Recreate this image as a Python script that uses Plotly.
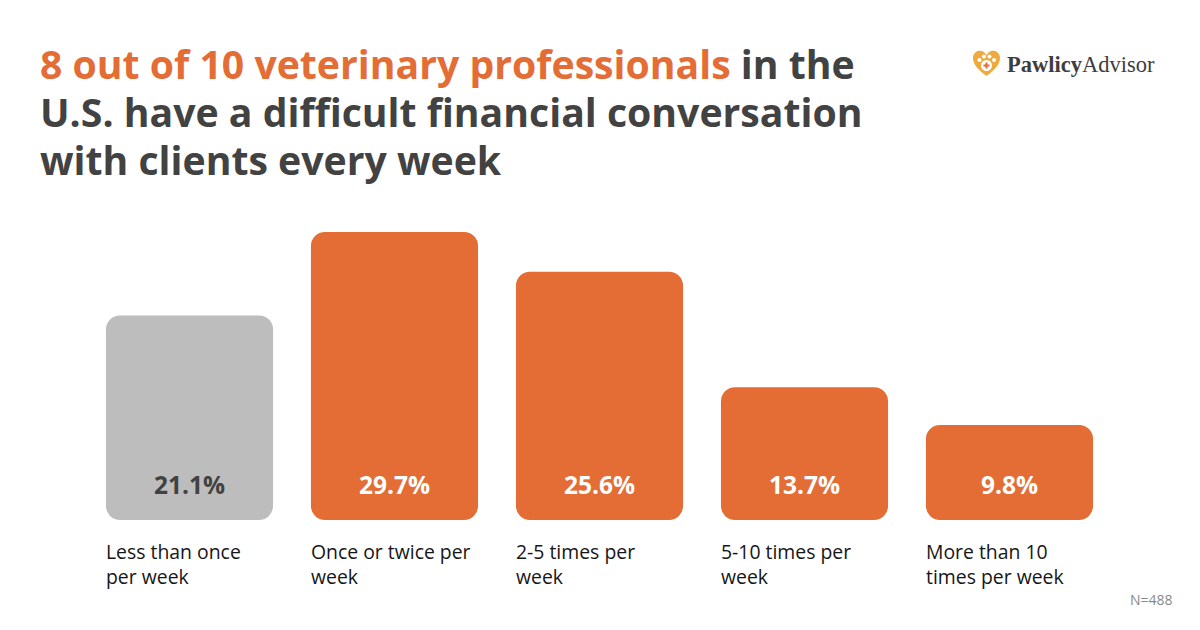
import plotly.graph_objects as go

categories = ["Less than once<br>per week", "Once or twice per<br>week", "2-5 times per<br>week",
              "5-10 times per<br>week", "More than 10<br>times per week"]
values = [21.1, 29.7, 25.6, 13.7, 9.8]
base_values = [0, 0, 0, 0, 0]
value_labels = ["21.1%", "29.7%", "25.6%", "13.7%", "9.8%"]
bar_colors = ["#bdbdbd", "#e46c35", "#e46c35", "#e46c35", "#e46c35"]
label_colors = ["#424242", "#ffffff", "#ffffff", "#ffffff", "#ffffff"]
title_lines = ["<b><span style='color:#e46c35'>8 out of 10 veterinary professionals</span> in the</b>",
               "<b>U.S. have a difficult financial conversation</b>",
               "<b>with clients every week</b>"]
FONT = "Open Sans"
BAR_WIDTH = 0.815
idx = list(range(len(values)))
L, T, PW, PH = 87, 200, 1025, 320

def X(x):
    return (x - L) / PW

def Y(y):
    return (T + PH - y) / PH

fig = go.Figure()
fig.add_bar(x=idx, y=values, base=base_values, width=BAR_WIDTH, marker_color=bar_colors, marker_line_width=0, hoverinfo="skip")

ann = []
for n, line in enumerate(title_lines):
    ann.append(dict(x=X(38), y=Y(63.5 + 48 * n), xref="paper", yref="paper", text=line, showarrow=False, xanchor="left", yanchor="middle",
                    font=dict(family=FONT, size=39.2, color="#424242")))
for i in idx:
    ann.append(dict(x=i, y=0, yref="y", xref="x", yshift=36, text=f"<b>{value_labels[i]}</b>", showarrow=False,
                    font=dict(family=FONT, size=24.5, color=label_colors[i]), xanchor="center", yanchor="middle"))
    ann.append(dict(x=i - BAR_WIDTH / 2, y=0, yref="y", xref="x", yshift=-16, text=categories[i], showarrow=False, align="left",
                    font=dict(family=FONT, size=19.4, color="#161616"), xanchor="left", yanchor="top", xshift=-2))
ann.append(dict(x=X(1173), y=Y(599), xref="paper", yref="paper", text="N=488", showarrow=False,
                font=dict(family=FONT, size=14, color="#8a8a8a"), xanchor="right", yanchor="middle", xshift=2))
ann.append(dict(x=X(1005), y=Y(64), xref="paper", yref="paper", showarrow=False, xanchor="left", yanchor="middle",
                text="<b>Pawlicy</b>Advisor", font=dict(family="Liberation Serif", size=22.5, color="#3d3d3d")))

def px(x, y):
    return f"{X(x):.4f},{Y(y):.4f}"

heart = ("M " + px(986.5, 76) + " C " + px(976, 68) + " " + px(973, 63) + " " + px(973, 58) + " C " + px(973, 50) + " " + px(983, 48) + " " + px(986.5, 55)
         + " C " + px(990, 48) + " " + px(1000, 50) + " " + px(1000, 58) + " C " + px(1000, 63) + " " + px(997, 68) + " " + px(986.5, 76) + " Z")
shapes = [dict(type="path", xref="paper", yref="paper", path=heart, fillcolor="#eeaa3c", line_width=0)]
for cx, cy, r in [(979.5, 60, 2), (984, 56.5, 2), (989.5, 56.5, 2), (994, 60, 2)]:
    shapes.append(dict(type="circle", xref="paper", yref="paper", x0=X(cx - r), x1=X(cx + r),
                       y0=Y(cy + r), y1=Y(cy - r), fillcolor="white", line_width=0))
shapes.append(dict(type="circle", xref="paper", yref="paper", x0=X(981), x1=X(992), y0=Y(71), y1=Y(60),
                   fillcolor="white", line_width=0))
for x0, x1, y0, y1 in [(985.5, 987.5, 62.5, 68.5), (983.5, 989.5, 64.5, 66.5)]:
    shapes.append(dict(type="rect", xref="paper", yref="paper", x0=X(x0), x1=X(x1), y0=Y(y1), y1=Y(y0),
                       fillcolor="#e46c35", line_width=0))

fig.update_layout(
    width=1200, height=630, autosize=False, barcornerradius=14, showlegend=False,
    paper_bgcolor="white", plot_bgcolor="white", margin=dict(l=L, r=1200 - L - PW, t=T, b=630 - T - PH),
    font=dict(family=FONT),
    xaxis=dict(range=[-0.5, 4.5], visible=False, fixedrange=True),
    yaxis=dict(range=[0, 33], visible=False, fixedrange=True),
    annotations=ann, shapes=shapes,
)
fig.write_html("out.html", post_script="document.body.style.margin='0';", config={"displayModeBar": False})
